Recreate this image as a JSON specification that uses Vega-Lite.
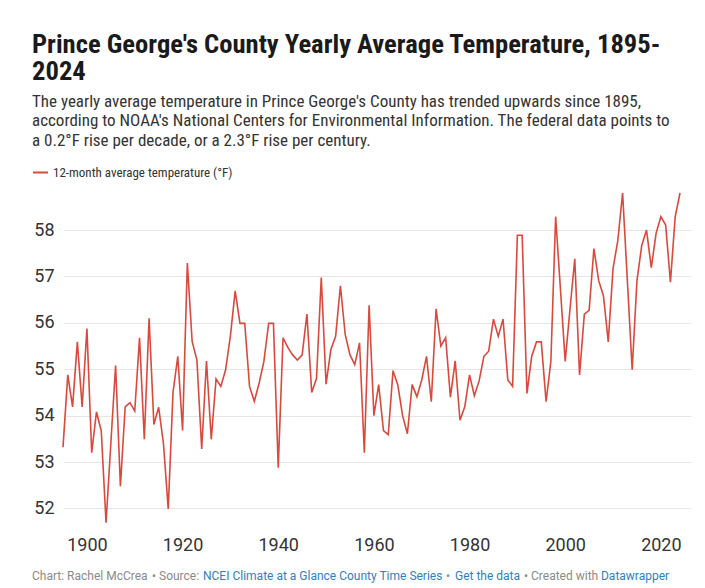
{
  "$schema": "https://vega.github.io/schema/vega-lite/v6.json",
  "autosize": {"type": "none"},
  "padding": {"left": 63, "top": 193, "right": 14, "bottom": 61},
  "width": 628,
  "height": 334,
  "background": "#ffffff",
  "title": {
    "text": ["Prince George's County Yearly Average Temperature, 1895-", "2024"],
    "subtitle": ["The yearly average temperature in Prince George's County has trended upwards since 1895,", "according to NOAA's National Centers for Environmental Information. The federal data points to", "a 0.2°F rise per decade, or a 2.3°F rise per century."],
    "anchor": "start",
    "frame": "group",
    "dx": -31,
    "offset": 15,
    "font": "Liberation Sans Narrow, Roboto Condensed, Roboto",
    "fontSize": 26.6,
    "fontWeight": "bold",
    "lineHeight": 27,
    "color": "#1a1a1a",
    "subtitleFont": "Liberation Sans Narrow, Roboto Condensed, Roboto",
    "subtitleFontSize": 17,
    "subtitleLineHeight": 19.5,
    "subtitleColor": "#333333",
    "subtitlePadding": 8
  },
  "config": {
    "view": {"stroke": null},
    "font": "Roboto"
  },
  "layer": [
    {
      "data": {"values": [
        {"year": 1895, "temp": 53.32}, {"year": 1896, "temp": 54.88}, {"year": 1897, "temp": 54.19}, {"year": 1898, "temp": 55.59}, {"year": 1899, "temp": 54.19},
        {"year": 1900, "temp": 55.88}, {"year": 1901, "temp": 53.2}, {"year": 1902, "temp": 54.08}, {"year": 1903, "temp": 53.67}, {"year": 1904, "temp": 51.69},
        {"year": 1905, "temp": 53.4}, {"year": 1906, "temp": 55.08}, {"year": 1907, "temp": 52.48}, {"year": 1908, "temp": 54.19}, {"year": 1909, "temp": 54.28},
        {"year": 1910, "temp": 54.1}, {"year": 1911, "temp": 55.68}, {"year": 1912, "temp": 53.49}, {"year": 1913, "temp": 56.1}, {"year": 1914, "temp": 53.81},
        {"year": 1915, "temp": 54.18}, {"year": 1916, "temp": 53.4}, {"year": 1917, "temp": 51.99}, {"year": 1918, "temp": 54.5}, {"year": 1919, "temp": 55.28},
        {"year": 1920, "temp": 53.68}, {"year": 1921, "temp": 57.29}, {"year": 1922, "temp": 55.6}, {"year": 1923, "temp": 55.2}, {"year": 1924, "temp": 53.28},
        {"year": 1925, "temp": 55.18}, {"year": 1926, "temp": 53.49}, {"year": 1927, "temp": 54.79}, {"year": 1928, "temp": 54.63}, {"year": 1929, "temp": 54.99},
        {"year": 1930, "temp": 55.72}, {"year": 1931, "temp": 56.69}, {"year": 1932, "temp": 55.99}, {"year": 1933, "temp": 55.99}, {"year": 1934, "temp": 54.63},
        {"year": 1935, "temp": 54.31}, {"year": 1936, "temp": 54.7}, {"year": 1937, "temp": 55.17}, {"year": 1938, "temp": 55.99}, {"year": 1939, "temp": 55.99},
        {"year": 1940, "temp": 52.88}, {"year": 1941, "temp": 55.68}, {"year": 1942, "temp": 55.47}, {"year": 1943, "temp": 55.31}, {"year": 1944, "temp": 55.2},
        {"year": 1945, "temp": 55.31}, {"year": 1946, "temp": 56.19}, {"year": 1947, "temp": 54.5}, {"year": 1948, "temp": 54.8}, {"year": 1949, "temp": 56.98},
        {"year": 1950, "temp": 54.68}, {"year": 1951, "temp": 55.42}, {"year": 1952, "temp": 55.71}, {"year": 1953, "temp": 56.8}, {"year": 1954, "temp": 55.75},
        {"year": 1955, "temp": 55.31}, {"year": 1956, "temp": 55.1}, {"year": 1957, "temp": 55.57}, {"year": 1958, "temp": 53.2}, {"year": 1959, "temp": 56.38},
        {"year": 1960, "temp": 54.0}, {"year": 1961, "temp": 54.67}, {"year": 1962, "temp": 53.68}, {"year": 1963, "temp": 53.59}, {"year": 1964, "temp": 54.97},
        {"year": 1965, "temp": 54.66}, {"year": 1966, "temp": 54.0}, {"year": 1967, "temp": 53.61}, {"year": 1968, "temp": 54.67}, {"year": 1969, "temp": 54.41},
        {"year": 1970, "temp": 54.77}, {"year": 1971, "temp": 55.28}, {"year": 1972, "temp": 54.3}, {"year": 1973, "temp": 56.3}, {"year": 1974, "temp": 55.5},
        {"year": 1975, "temp": 55.68}, {"year": 1976, "temp": 54.4}, {"year": 1977, "temp": 55.18}, {"year": 1978, "temp": 53.9}, {"year": 1979, "temp": 54.19},
        {"year": 1980, "temp": 54.88}, {"year": 1981, "temp": 54.43}, {"year": 1982, "temp": 54.75}, {"year": 1983, "temp": 55.28}, {"year": 1984, "temp": 55.39},
        {"year": 1985, "temp": 56.08}, {"year": 1986, "temp": 55.71}, {"year": 1987, "temp": 56.08}, {"year": 1988, "temp": 54.77}, {"year": 1989, "temp": 54.63},
        {"year": 1990, "temp": 57.89}, {"year": 1991, "temp": 57.89}, {"year": 1992, "temp": 54.48}, {"year": 1993, "temp": 55.28}, {"year": 1994, "temp": 55.59},
        {"year": 1995, "temp": 55.59}, {"year": 1996, "temp": 54.3}, {"year": 1997, "temp": 55.17}, {"year": 1998, "temp": 58.29}, {"year": 1999, "temp": 56.73},
        {"year": 2000, "temp": 55.17}, {"year": 2001, "temp": 56.3}, {"year": 2002, "temp": 57.38}, {"year": 2003, "temp": 54.88}, {"year": 2004, "temp": 56.19},
        {"year": 2005, "temp": 56.27}, {"year": 2006, "temp": 57.6}, {"year": 2007, "temp": 56.91}, {"year": 2008, "temp": 56.58}, {"year": 2009, "temp": 55.59},
        {"year": 2010, "temp": 57.17}, {"year": 2011, "temp": 57.78}, {"year": 2012, "temp": 58.8}, {"year": 2013, "temp": 56.9}, {"year": 2014, "temp": 54.99},
        {"year": 2015, "temp": 56.91}, {"year": 2016, "temp": 57.67}, {"year": 2017, "temp": 58.0}, {"year": 2018, "temp": 57.19}, {"year": 2019, "temp": 57.93},
        {"year": 2020, "temp": 58.29}, {"year": 2021, "temp": 58.11}, {"year": 2022, "temp": 56.88}, {"year": 2023, "temp": 58.29}, {"year": 2024, "temp": 58.8}
      ]},
      "mark": {"type": "line", "strokeWidth": 1.6, "strokeJoin": "miter"},
      "encoding": {
        "x": {
          "field": "year", "type": "quantitative",
          "scale": {"domain": [1895, 2026.3], "nice": false, "zero": false},
          "axis": {"values": [1900, 1920, 1940, 1960, 1980, 2000, 2020], "format": "d", "title": null, "grid": false, "domain": false, "ticks": false, "labelFontSize": 18, "labelColor": "#333333", "labelPadding": 9, "labelFont": "Roboto"}
        },
        "y": {
          "field": "temp", "type": "quantitative",
          "scale": {"domain": [51.6, 58.8], "nice": false, "zero": false},
          "axis": {"values": [52, 53, 54, 55, 56, 57, 58], "title": null, "domain": false, "ticks": false, "gridColor": "#e6e6e6", "gridWidth": 1, "labelFontSize": 18, "labelColor": "#333333", "labelPadding": 9, "labelFont": "Roboto"}
        },
        "color": {
          "datum": "12-month average temperature (°F)",
          "type": "nominal",
          "scale": {"range": ["#d94a3c"]},
          "legend": {"orient": "none", "legendX": -31, "legendY": -29, "title": null, "symbolType": "stroke", "symbolSize": 225, "symbolStrokeWidth": 2, "labelFont": "Liberation Sans Narrow, Roboto Condensed, Roboto", "labelFontSize": 13, "labelLimit": 400, "labelColor": "#333333", "padding": 0}
        }
      }
    },
    {
      "data": {"values": [{}]},
      "mark": {"type": "text", "text": "Chart: Rachel McCrea", "align": "left", "baseline": "middle", "font": "Roboto", "fontSize": 12, "color": "#8a8a8a"},
      "encoding": {"x": {"datum": 1888.52, "type": "quantitative"}, "y": {"datum": 50.544, "type": "quantitative"}}
    },
    {
      "data": {"values": [{}]},
      "mark": {"type": "text", "text": "• Source:", "align": "left", "baseline": "middle", "font": "Roboto", "fontSize": 12, "color": "#8a8a8a"},
      "encoding": {"x": {"datum": 1913.61, "type": "quantitative"}, "y": {"datum": 50.544, "type": "quantitative"}}
    },
    {
      "data": {"values": [{}]},
      "mark": {"type": "text", "text": "NCEI Climate at a Glance County Time Series", "align": "left", "baseline": "middle", "font": "Roboto", "fontSize": 12, "color": "#2f7fc1"},
      "encoding": {"x": {"datum": 1924.27, "type": "quantitative"}, "y": {"datum": 50.544, "type": "quantitative"}}
    },
    {
      "data": {"values": [{}]},
      "mark": {"type": "text", "text": "•", "align": "left", "baseline": "middle", "font": "Roboto", "fontSize": 12, "color": "#8a8a8a"},
      "encoding": {"x": {"datum": 1975.08, "type": "quantitative"}, "y": {"datum": 50.544, "type": "quantitative"}}
    },
    {
      "data": {"values": [{}]},
      "mark": {"type": "text", "text": "Get the data", "align": "left", "baseline": "middle", "font": "Roboto", "fontSize": 12, "color": "#2f7fc1"},
      "encoding": {"x": {"datum": 1976.96, "type": "quantitative"}, "y": {"datum": 50.544, "type": "quantitative"}}
    },
    {
      "data": {"values": [{}]},
      "mark": {"type": "text", "text": "• Created with", "align": "left", "baseline": "middle", "font": "Roboto", "fontSize": 12, "color": "#8a8a8a"},
      "encoding": {"x": {"datum": 1991.38, "type": "quantitative"}, "y": {"datum": 50.544, "type": "quantitative"}}
    },
    {
      "data": {"values": [{}]},
      "mark": {"type": "text", "text": "Datawrapper", "align": "left", "baseline": "middle", "font": "Roboto", "fontSize": 12, "color": "#2f7fc1"},
      "encoding": {"x": {"datum": 2007.48, "type": "quantitative"}, "y": {"datum": 50.544, "type": "quantitative"}}
    }
  ]
}
